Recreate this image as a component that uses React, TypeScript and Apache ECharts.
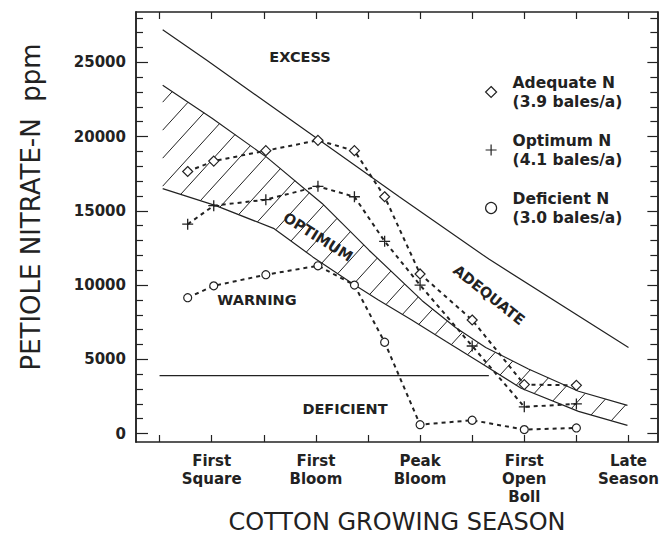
import React, { useEffect, useRef } from "react";
import * as echarts from "echarts";

// ---- data ----
const categories = ["First\nSquare", "First\nBloom", "Peak\nBloom", "First\nOpen\nBoll", "Late\nSeason"];
const categoryPositions = [1, 2, 3, 4, 5];
const xTicks = [0.5, 1, 1.5, 2, 2.5, 3, 3.5, 4, 4.5, 5];
const yMajorTicks = [0, 5000, 10000, 15000, 20000, 25000];
const yMinorTicks = [1000, 2000, 3000, 4000, 6000, 7000, 8000, 9000, 11000, 12000, 13000, 14000, 16000, 17000, 18000, 19000, 21000, 22000, 23000, 24000, 26000, 27000, 28000];

const sampleTimes = [0.77, 1.02, 1.52, 2.02, 2.37, 2.66, 3.0, 3.5, 4.0, 4.5];
const adequateN = [17650, 18350, 19050, 19750, 19050, 15950, 10750, 7650, 3300, 3250];
const optimumN = [14100, 15350, 15750, 16650, 15950, 12950, 10000, 5900, 1800, 2000];
const deficientN = [9150, 9950, 10700, 11300, 10000, 6150, 600, 900, 270, 380];

const excessLineX = [0.53, 0.95, 2.8, 3.66, 5.0];
const excessLineY = [27200, 25150, 15950, 11750, 5800];
const optimumTopX = [0.53, 1.0, 1.53, 2.06, 2.51, 3.02, 3.34, 3.63, 4.04, 4.52, 4.99];
const optimumTopY = [23450, 21250, 18600, 15500, 12350, 8950, 7150, 5800, 4350, 2850, 1900];
const optimumBottomX = [0.53, 1.04, 1.6, 1.97, 2.35, 2.6, 2.92, 3.25, 3.56, 3.97, 4.52, 4.99];
const optimumBottomY = [16500, 15350, 13800, 11900, 10100, 9000, 7650, 6200, 4850, 3050, 1500, 550];
const deficientLineX = [0.5, 3.66];
const deficientLineY = [3900, 3900];

const legendNames = ["Adequate N\n(3.9 bales/a)", "Optimum N\n(4.1 bales/a)", "Deficient N\n(3.0 bales/a)"];

const FONT = "'DejaVu Sans', sans-serif";
const INK = "#222";
const PLUS = "path://M5,0V10M0,5H10";

const zip = (xs: number[], ys: number[]) => xs.map((x, i) => [x, ys[i]]);

export default function App() {
  const ref = useRef<HTMLDivElement>(null);
  useEffect(() => {
    if (!ref.current) return;
    const chart = echarts.init(ref.current, undefined, { renderer: "svg" });
    const axisLine = { show: true, onZero: false, lineStyle: { color: INK, width: 1.5 } };
    const xMin = 0.274, xMax = 5.277, yMin = -566, yMax = 28390;
    const markerStyle = { color: "#fff", borderColor: INK, borderWidth: 1.2 };
    const boundary = (name: string, xs: number[], ys: number[]) => ({
      type: "line", name, data: zip(xs, ys), showSymbol: false, silent: true, z: 2,
      lineStyle: { color: INK, width: 1.2 },
    });
    const dataSeries = (name: string, ys: number[], symbol: string, size: number, style: any) => ({
      type: "line", name, data: zip(sampleTimes, ys), symbol, symbolSize: size, z: 5,
      lineStyle: { color: INK, width: 2, type: [4, 4] },
      itemStyle: style,
    });
    const regionText = (text: string, x: number, y: number, rotation = 0) => ({
      type: "text", x, y, rotation,
      style: { text, font: `bold 14.5px ${FONT}`, fill: INK, textAlign: "center", textVerticalAlign: "middle" },
    });
    const option: any = {
      animation: false,
      backgroundColor: "#fff",
      grid: { left: 136, right: 3, top: 12, bottom: 95 },
      legend: {
        orient: "vertical", left: 480, top: 68, itemGap: 20, itemWidth: 11, itemHeight: 11,
        selectedMode: false,
        data: [
          { name: legendNames[0], icon: "diamond", itemStyle: markerStyle },
          { name: legendNames[1], icon: PLUS, itemStyle: { color: INK, borderColor: INK, borderWidth: 1.2 } },
          { name: legendNames[2], icon: "circle", itemStyle: markerStyle },
        ],
        textStyle: { fontFamily: FONT, fontWeight: "bold", fontSize: 15.5, lineHeight: 19, color: INK, padding: [0, 0, 0, 11] },
      },
      xAxis: [
        {
          type: "value", position: "bottom", min: xMin, max: xMax, axisLine,
          axisTick: { show: true, inside: true, length: 7, customValues: xTicks, lineStyle: { color: INK, width: 1.2 } },
          axisLabel: {
            customValues: categoryPositions, color: INK, fontFamily: FONT, fontWeight: "bold", fontSize: 15, lineHeight: 18, margin: 10,
            formatter: (v: number) => categories[categoryPositions.indexOf(v)] ?? "",
          },
          splitLine: { show: false },
        },
        {
          type: "value", position: "top", min: xMin, max: xMax, axisLine,
          axisTick: { show: true, inside: true, length: 7, customValues: xTicks, lineStyle: { color: INK, width: 1.2 } },
          axisLabel: { show: false }, splitLine: { show: false },
        },
      ],
      yAxis: [
        {
          type: "value", position: "left", min: yMin, max: yMax, axisLine,
          axisTick: { show: true, inside: true, length: 12, customValues: yMajorTicks, lineStyle: { color: INK, width: 1.2 } },
          axisLabel: { customValues: yMajorTicks, color: INK, fontFamily: FONT, fontWeight: "bold", fontSize: 15, margin: 10, formatter: (v: number) => String(v) },
          splitLine: { show: false },
        },
        {
          type: "value", position: "left", min: yMin, max: yMax, axisLine,
          axisTick: { show: true, inside: true, length: 7, customValues: yMinorTicks, lineStyle: { color: INK, width: 1.2 } },
          axisLabel: { show: false }, splitLine: { show: false },
        },
        {
          type: "value", position: "right", min: yMin, max: yMax, axisLine,
          axisTick: { show: true, inside: true, length: 10, customValues: yMajorTicks, lineStyle: { color: INK, width: 1.2 } },
          axisLabel: { show: false }, splitLine: { show: false },
        },
        {
          type: "value", position: "right", min: yMin, max: yMax, axisLine,
          axisTick: { show: true, inside: true, length: 7, customValues: yMinorTicks, lineStyle: { color: INK, width: 1.2 } },
          axisLabel: { show: false }, splitLine: { show: false },
        },
      ],
      graphic: [
        regionText("EXCESS", 300, 57),
        regionText("WARNING", 257, 300),
        regionText("DEFICIENT", 345, 409),
        regionText("OPTIMUM", 318, 237, -0.56),
        regionText("ADEQUATE", 489, 295, -0.67),
        { type: "text", x: 31, y: 207, rotation: Math.PI / 2, style: { text: "PETIOLE NITRATE-N  ppm", font: `26px ${FONT}`, fill: INK, textAlign: "center", textVerticalAlign: "middle" } },
        { type: "text", x: 397, y: 522, style: { text: "COTTON GROWING SEASON", font: `24px ${FONT}`, fill: INK, textAlign: "center", textVerticalAlign: "middle" } },
      ],
      series: [
        {
          type: "custom", name: "Optimum band", silent: true, z: 1,
          data: [[optimumTopX[0], optimumTopY[0]]],
          renderItem: (_params: any, api: any) => {
            const top = optimumTopX.map((x, i) => api.coord([x, optimumTopY[i]]));
            const bot = optimumBottomX.map((x, i) => api.coord([x, optimumBottomY[i]]));
            const poly = [...bot, ...top.slice().reverse()];
            const k = 1.1;
            const vals = poly.map((p: number[]) => k * p[0] + p[1]);
            const cmin = Math.min(...vals), cmax = Math.max(...vals);
            const step = 28;
            const children: any[] = [];
            for (let c = cmin + step * 0.6; c < cmax; c += step) {
              const pts: number[][] = [];
              for (let i = 0; i < poly.length; i++) {
                const p = poly[i], q = poly[(i + 1) % poly.length];
                const sp = k * p[0] + p[1] - c, sq = k * q[0] + q[1] - c;
                if ((sp < 0) !== (sq < 0)) {
                  const t = sp / (sp - sq);
                  pts.push([p[0] + t * (q[0] - p[0]), p[1] + t * (q[1] - p[1])]);
                }
              }
              pts.sort((a, b) => a[0] - b[0]);
              for (let j = 0; j + 1 < pts.length; j += 2) {
                children.push({ type: "line", shape: { x1: pts[j][0], y1: pts[j][1], x2: pts[j + 1][0], y2: pts[j + 1][1] }, style: { stroke: INK, lineWidth: 1 } });
              }
            }
            return { type: "group", children };
          },
        },
        boundary("Excess boundary", excessLineX, excessLineY),
        boundary("Optimum upper", optimumTopX, optimumTopY),
        boundary("Optimum lower", optimumBottomX, optimumBottomY),
        boundary("Deficient boundary", deficientLineX, deficientLineY),
        dataSeries(legendNames[0], adequateN, "diamond", 10, markerStyle),
        dataSeries(legendNames[1], optimumN, PLUS, 11, { color: INK, borderColor: INK, borderWidth: 1.3 }),
        dataSeries(legendNames[2], deficientN, "circle", 8, markerStyle),
      ],
    };
    chart.setOption(option);
    return () => chart.dispose();
  }, []);
  return <div ref={ref} style={{ position: "fixed", left: 0, top: 0, width: 662, height: 537, background: "#fff" }} />;
}
